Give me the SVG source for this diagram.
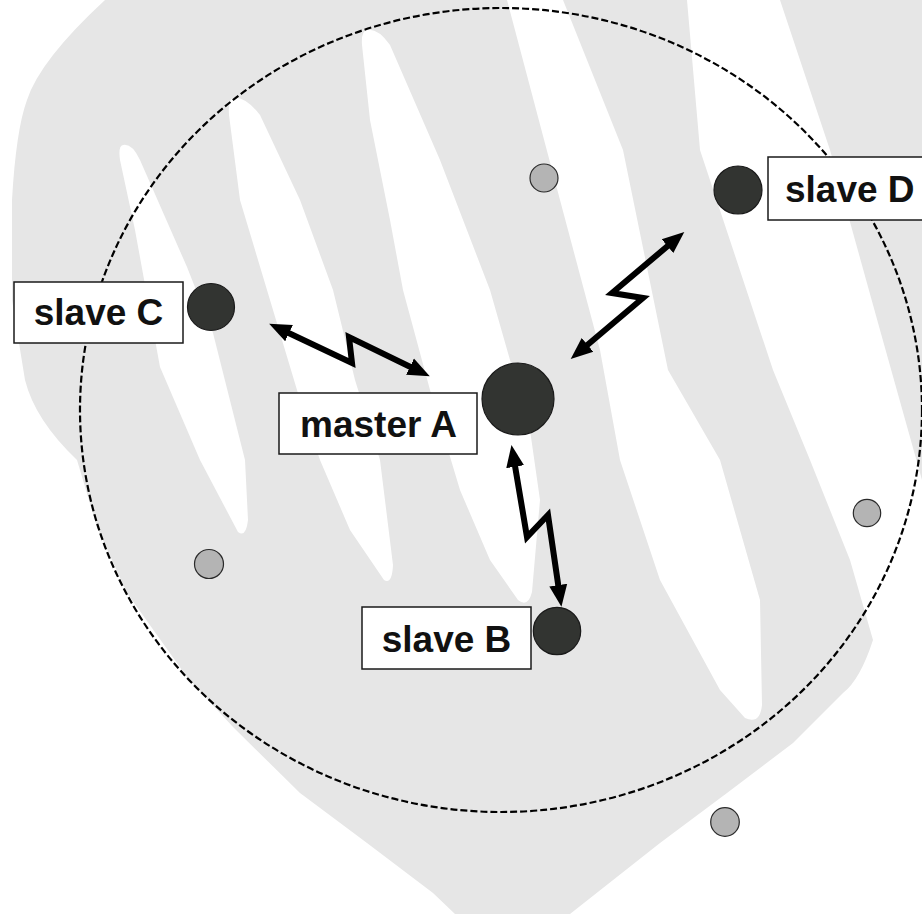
<svg xmlns="http://www.w3.org/2000/svg" width="922" height="914" viewBox="0 0 922 914">
<style>
.bg{fill:#e6e6e6}
.st{fill:#ffffff}
.ring{fill:none;stroke:#000;stroke-width:2.2;stroke-dasharray:7 3}
.master{fill:#323431;stroke:#1a1a1a;stroke-width:1.2}
.slave{fill:#323431;stroke:#1a1a1a;stroke-width:1.2}
.idle{fill:#b4b4b4;stroke:#2a2a2a;stroke-width:1.2}
.box{fill:#fff;stroke:#1a1a1a;stroke-width:1.5}
.lbl{font-family:"Liberation Sans",Arial,sans-serif;font-weight:bold;font-size:37px;fill:#111}
.bolt{fill:none;stroke:#000;stroke-width:6;stroke-linejoin:miter;stroke-miterlimit:10}
</style>
<defs>
<marker id="ah" markerUnits="userSpaceOnUse" markerWidth="24" markerHeight="20" refX="8" refY="9" orient="auto-start-reverse" viewBox="0 0 24 18">
<path d="M0,0 L22,9 L0,18 Z" fill="#000"/>
</marker>
</defs>
<rect width="922" height="914" fill="#fff"/>
<g id="background">
<path class="bg" d="M105,0 L687,0 L700,150 L773,370 L810,460 L850,560 L873,640 Q860,680 843,693 L793,743 L727,793 L660,843 L570,914 L455,914 L433,893 L367,843 L300,793 L233,727 L187,677 L127,593 L97,527 L77,460 Q35,420 25,380 L12,300 L12,200 Q16,130 27,100 Q40,60 105,0 Z"/>
<path class="bg" d="M780,0 L922,0 L922,480 L880,330 L830,150 Z"/>
<path class="st" d="M123,145 Q132,143 140,160 L187,267 L213,333 L245,460 L248,520 Q246,538 238,532 L200,460 L160,367 L135,230 L120,160 Q118,146 123,145 Z"/>
<path class="st" d="M233,98 Q245,96 260,115 L300,200 L333,290 L355,380 L380,460 L393,565 Q392,585 384,580 L350,530 L320,460 L300,400 L267,290 L240,200 L229,115 Q228,99 233,98 Z"/>
<path class="st" d="M367,30 Q378,28 390,45 L440,160 L490,290 L530,430 L540,500 L532,592 Q528,608 518,600 L490,560 L460,490 L430,390 L403,290 L390,220 L370,120 L362,45 Q361,31 367,30 Z"/>
<path class="st" d="M507,0 L563,0 L623,150 L668,370 L720,460 L760,600 L762,705 Q760,725 745,718 L720,690 L660,580 L620,460 L600,350 L560,200 Z"/>
</g>
<ellipse class="ring" cx="501" cy="410" rx="421" ry="402"/>
<g id="connectors">
<path class="bolt" d="M281.8,329.7 L352,363 L349,337 L417.2,370.2" marker-start="url(#ah)" marker-end="url(#ah)"/>
<path class="bolt" d="M673.6,241 L612,293 L643,298 L581.4,350" marker-start="url(#ah)" marker-end="url(#ah)"/>
<path class="bolt" d="M513.8,458.8 L527,537 L548,515 L559.4,593" marker-start="url(#ah)" marker-end="url(#ah)"/>
</g>
<g id="idle1"><circle class="idle" cx="544" cy="178" r="14"/></g>
<g id="idle2"><circle class="idle" cx="209" cy="564" r="14.5"/></g>
<g id="idle3"><circle class="idle" cx="867" cy="513" r="13.7"/></g>
<g id="idle4"><circle class="idle" cx="725" cy="822" r="14.3"/></g>
<g id="masterA">
<circle class="master" cx="518" cy="399" r="36"/>
<rect class="box" x="279" y="393" width="198" height="61"/>
<text class="lbl" x="378.5" y="437" text-anchor="middle">master A</text>
</g>
<g id="slaveC">
<circle class="slave" cx="211" cy="307" r="23.5"/>
<rect class="box" x="14" y="282" width="169" height="61"/>
<text class="lbl" x="98.5" y="325" text-anchor="middle">slave C</text>
</g>
<g id="slaveB">
<circle class="slave" cx="557" cy="631" r="23.7"/>
<rect class="box" x="362" y="607" width="169" height="62"/>
<text class="lbl" x="446.5" y="652" text-anchor="middle">slave B</text>
</g>
<g id="slaveD">
<circle class="slave" cx="738" cy="190" r="24"/>
<rect class="box" x="768" y="157" width="170" height="63"/>
<text class="lbl" x="785" y="202">slave D</text>
</g>
</svg>
